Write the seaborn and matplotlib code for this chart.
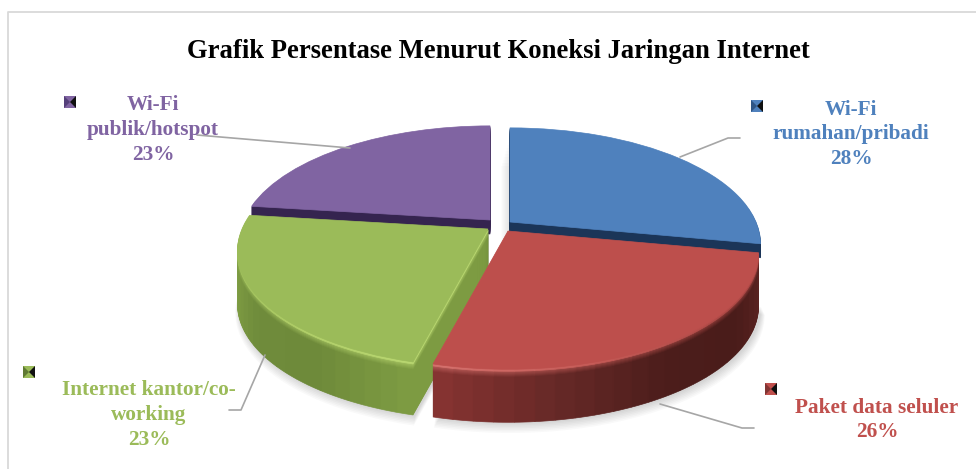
import matplotlib
matplotlib.use("Agg")
import matplotlib.pyplot as plt
import numpy as np
import seaborn as sns
from matplotlib.colors import to_rgb
from matplotlib.transforms import Transform

sns.set_theme(style="white")
plt.rcParams['font.family'] = ['Liberation Serif', 'DejaVu Serif']

title = "Grafik Persentase Menurut Koneksi Jaringan Internet"
categories = ["Wi-Fi\nrumahan/pribadi", "Paket data seluler",
              "Internet kantor/co-\nworking", "Wi-Fi\npublik/hotspot"]
values = [28, 26, 23, 23]
top_colors = ["#4f81bd", "#bd4f4c", "#9bbb59", "#8064a2"]
text_colors = ["#4f81bd", "#c0504d", "#9bbb59", "#8064a2"]

# rim colours, clockwise through each slice
side_colors = [
    ["#1b3558", "#1b3558"],
    ["#5c2422", "#4a1c1a", "#4c1d1b", "#652826", "#853331"],
    ["#7d9b42", "#6e8a3a", "#6f8b3b", "#7f9e44", "#8fb050"],
    ["#35244f", "#35244f"],
]
glow_colors = [
    ["#1b3558", "#1b3558"],
    ["#a84644", "#b04a47", "#c45a56", "#d4706c"],
    ["#b8d670", "#b0ce68", "#a0c05c", "#98b858"],
    ["#35244f", "#35244f"],
]

# where the point of each slice sits, in image pixels
apex = [(510, 222), (508, 231), (488, 229), (490, 220)]
draw_order = [3, 0, 2, 1]
depth = 53
back_depth = 14
rx, ry, tilt = 246, 112, 0.19


class Tilted(Transform):
    """Perspective view of the unit pie, result in image pixels."""
    input_dims = 2
    output_dims = 2

    def __init__(self, cx, cy, grow=1.0):
        super().__init__()
        self.cx, self.cy, self.grow = cx, cy, grow

    def transform_non_affine(self, xy):
        xy = np.asarray(xy)
        w = 1 + tilt * xy[:, 1]
        sx = self.cx + self.grow * rx * xy[:, 0] / w
        sy = self.cy - self.grow * ry * xy[:, 1] / w
        return np.column_stack([sx, sy])


fig = plt.figure(figsize=(9.76, 4.69), dpi=100)
ax = fig.add_axes([0, 0, 1, 1])


def draw_slice(i, cx, cy, colors, grow=1.0, alpha=None):
    before = sum(values[:i])
    after = sum(values[i + 1:])
    n = len(colors)
    parts = [before] + [values[i] / n] * n + [after]
    wedges, _ = ax.pie(parts, colors=["none"] + list(colors) + ["none"],
                       startangle=90, counterclock=False, labeldistance=None,
                       wedgeprops={"linewidth": 0.5})
    wedges[0].remove()
    wedges[-1].remove()
    for w in wedges[1:-1]:
        w.set_edgecolor(w.get_facecolor())
        w.set_transform(Tilted(cx, cy, grow) + ax.transData)
        if alpha is not None:
            w.set_alpha(alpha)
            w.set_linewidth(0)


# soft shadow under the pie
for k in range(2, 16, 2):
    for i in (1, 2):
        draw_slice(i, apex[i][0] + 2, apex[i][1] + depth + k * 0.6, ["black"],
                   grow=1 + k * 0.0012, alpha=0.022)
# and the shade in the gap between the two back slices
for k in range(1, 11):
    draw_slice(0, apex[0][0] - k * 0.9, apex[0][1] + 8 + k * 3, ["black"], alpha=0.012)

for i in draw_order:
    cx, cy = apex[i]
    n_parts = 24 if i in (1, 2) else 1
    if n_parts > 1:
        rim = sns.blend_palette(side_colors[i], n_parts)
        glow = sns.blend_palette(glow_colors[i], n_parts)
    else:
        rim = [side_colors[i][0]]
        glow = [glow_colors[i][0]]
    slice_depth = depth if n_parts > 1 else back_depth
    for d in range(slice_depth, 8, -1):
        draw_slice(i, cx, cy + d, rim)
    # rounded edge, rim colour fading up into the glow
    for d in range(8, 2, -1):
        t = (8 - d) / 6 * 0.6
        mix = [tuple((1 - t) * np.array(to_rgb(a)) + t * np.array(to_rgb(b)))
               for a, b in zip(rim, glow)]
        draw_slice(i, cx, cy + d, mix)
    for d in (2, 1):
        draw_slice(i, cx, cy + d, glow)
    draw_slice(i, cx, cy, [top_colors[i]])

ax.set_aspect("auto")
ax.set_xlim(0, 976)
ax.set_ylim(469, 0)
ax.axis("off")

# chart frame, only left and top show in the crop
ax.plot([8, 8, 976], [469, 12, 12], color="#d9d9d9", lw=1.3, clip_on=False)

# leader lines
line_color = "#a6a6a6"
ax.plot([680, 728, 740], [157, 138, 138], color=line_color, lw=1.2)
ax.plot([660, 742, 754], [404, 428, 428], color=line_color, lw=1.2)
ax.plot([265, 241, 229], [355, 410, 410], color=line_color, lw=1.2)
ax.plot([197, 350], [135, 148], color=line_color, lw=1.2)

ax.text(498, 52, title, ha="center", va="center", fontsize=19.2,
        fontweight="bold", color="black")

label_pos = [(851, 134.5), (877, 420), (149, 415), (153, 130)]
for i, (x, y) in enumerate(label_pos):
    ax.text(x, y, f"{categories[i]}\n{values[i]}%", ha="center", va="center",
            fontsize=15.3, fontweight="bold", color=text_colors[i],
            linespacing=1.33)

# little bevelled legend keys
key_pos = [(757, 106), (771, 389), (29, 372), (70, 102)]
key_left = ["#2f5585", "#823533", "#5f7a33", "#55407a"]
for (x, y), c, left in zip(key_pos, text_colors, key_left):
    s = 6
    ax.fill([x - s, x + s, x + s, x - s], [y - s, y - s, y + s, y + s], color=c, lw=0)
    ax.fill([x + s, x + s, x], [y - s, y + s, y], color="#101010", lw=0)
    ax.fill([x - s, x - s, x], [y - s, y + s, y], color=left, lw=0)

fig.savefig("out.png", dpi=100, facecolor="white")
